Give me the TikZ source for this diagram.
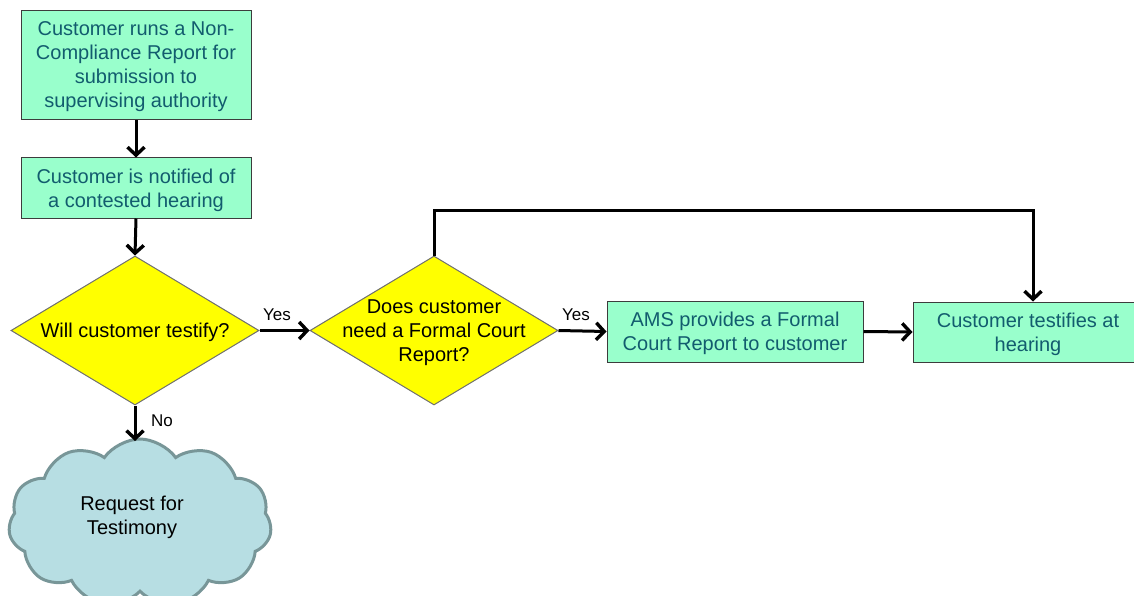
\documentclass[tikz,border=0pt]{standalone}
\usepackage{fontspec}
\setmainfont{Liberation Sans}
\usetikzlibrary{shapes.geometric,shapes.symbols,arrows.meta}
\definecolor{boxfill}{RGB}{153,255,204}
\definecolor{boxtext}{RGB}{18,92,110}
\definecolor{boxline}{RGB}{60,60,60}
\definecolor{decfill}{RGB}{255,255,0}
\definecolor{decline}{RGB}{110,110,110}
\definecolor{cloudfill}{RGB}{183,222,227}
\definecolor{cloudline}{RGB}{120,150,152}
\tikzset{
  stepbox/.style={rectangle, draw=boxline, line width=1pt, fill=boxfill,
    inner sep=0pt, align=center, text=boxtext,
    font=\fontsize{20}{24}\selectfont},
  decbox/.style={diamond, draw=decline, line width=1pt, fill=decfill,
    inner sep=0pt, minimum width=248pt, minimum height=149pt},
  dectext/.style={align=center, text=black, yshift=-2pt,
    font=\fontsize{20}{24}\selectfont},
  flow/.style={line width=3pt, -{Straight Barb[length=8pt,width=17pt,line width=3.4pt]}},
  flowlabel/.style={font=\fontsize{17}{20}\selectfont, text=black, inner sep=0pt}
}
\begin{document}
\begin{tikzpicture}[x=1pt,y=-1pt]
\useasboundingbox (0,0) rectangle (1134,596);
\clip (0,0) rectangle (1134,596);

% process boxes (text set in its own node so it sits a little lower)
\node[stepbox, minimum width=230pt, minimum height=109pt] (b1) at (136,65.5) {};
\node[stepbox, draw=none, fill=none, yshift=-1pt] at (b1)
  {Customer runs a Non-\\Compliance Report for\\submission to\\supervising authority};
\node[stepbox, minimum width=230pt, minimum height=60pt] (b2) at (136,188) {};
\node[stepbox, draw=none, fill=none, yshift=-2pt] at (b2)
  {Customer is notified of\\a contested hearing};
\node[stepbox, minimum width=256pt, minimum height=61pt] (b3) at (735,331.5) {};
\node[stepbox, draw=none, fill=none, yshift=-2pt] at (b3)
  {AMS provides a Formal\\Court Report to customer};
\node[stepbox, minimum width=230pt, minimum height=60pt] (b4) at (1028,332) {};
\node[stepbox, draw=none, fill=none, yshift=-2pt] at (b4)
  {Customer testifies at\\hearing};

% decisions
\node[decbox] (d1) at (135,330.5) {};
\node[dectext] at (d1) {Will customer testify?};
\node[decbox] (d2) at (434,330.5) {};
\node[dectext] at (d2) {Does customer\\need a Formal Court\\Report?};

% terminal cloud
\node[cloud, cloud puffs=11, cloud puff arc=110, aspect=1.6,
      draw=cloudline, line width=3pt, fill=cloudfill,
      minimum width=263pt, minimum height=168pt] (c1) at (140,523) {};
\node[dectext] at (132,515) {Request for\\Testimony};

% connectors
\draw[flow] (b1.south) -- (b2.north);
\draw[flow] (b2.south) -- (d1.north);
\draw[flow] (d1.east) -- (d2.west);
\draw[flow] (d1.south) -- (135,441);
\draw[flow] (d2.east) -- (b3.west);
\draw[flow] (b3.east) -- (b4.west);
\draw[flow] (d2.north) -- ++(0,-45) -| ([xshift=5pt]b4.north);

% branch labels
\node[flowlabel] at (277,315) {Yes};
\node[flowlabel] at (576,315) {Yes};
\node[flowlabel] at (162,421) {No};
\end{tikzpicture}
\end{document}
